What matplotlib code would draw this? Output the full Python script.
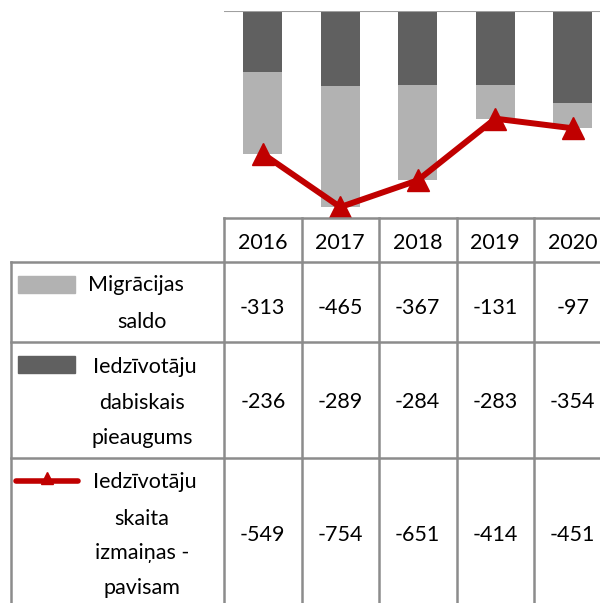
import matplotlib
matplotlib.use("Agg")
import matplotlib.pyplot as plt
from matplotlib.patches import Rectangle

years = ["2016", "2017", "2018", "2019", "2020"]
migracija = [-313, -465, -367, -131, -97]
dabiskais = [-236, -289, -284, -283, -354]
kopa = [-549, -754, -651, -414, -451]

row_labels = [
    ["Migrācijas", "saldo"],
    ["Iedzīvotāju", "dabiskais", "pieaugums"],
    ["Iedzīvotāju", "skaita", "izmaiņas -", "pavisam"],
]

dark = "#606060"
light = "#b2b2b2"
red = "#c00000"
grid = "#8c8c8c"

plt.rcParams["font.family"] = ["Lato", "DejaVu Sans"]
FS = 15.5

fig = plt.figure(figsize=(6, 6.03), dpi=100)
W, H = 600, 603

# chart area: x from 224 px, each column 77.5 px, y from 11 px to 218 px
x0, colw = 224, 77.5
ax = fig.add_axes([x0 / W, 1 - 218 / H, 5 * colw / W, (218 - 11) / H])
xs = list(range(len(years)))
ax.bar(xs, dabiskais, width=0.5, color=dark, zorder=2)
ax.bar(xs, migracija, width=0.5, bottom=dabiskais, color=light, zorder=2)
ax.plot(xs, kopa, color=red, lw=4.3, marker="^", ms=16, zorder=3)
ax.axhline(0, color="#a0a0a0", lw=1.5, zorder=4)
ax.set_xlim(-0.5, len(years) - 0.5)
ax.set_ylim(-796, 0)
ax.axis("off")

# table overlay in pixel coordinates
tx = fig.add_axes([0, 0, 1, 1], zorder=5)
tx.set_xlim(0, W)
tx.set_ylim(H, 0)
tx.axis("off")
tx.patch.set_alpha(0)

lw = 1.8
rows_y = [218, 262, 342, 458, H + 5]
cols_x = [x0 + i * colw for i in range(len(years) + 1)]
tx.plot([x0, W], [rows_y[0]] * 2, color=grid, lw=lw)
for y in rows_y[1:4]:
    tx.plot([11, W], [y, y], color=grid, lw=lw)
tx.plot([11, 11], [rows_y[1], H], color=grid, lw=lw)
for x in cols_x:
    tx.plot([x, x], [rows_y[0], H], color=grid, lw=lw)

cx = [x0 + (i + 0.5) * colw for i in range(len(years))]
for i, yr in enumerate(years):
    tx.text(cx[i], 243, yr, ha="center", va="center", fontsize=FS)
    tx.text(cx[i], 308, str(migracija[i]), ha="center", va="center", fontsize=FS)
    tx.text(cx[i], 402, str(dabiskais[i]), ha="center", va="center", fontsize=FS)
    tx.text(cx[i], 535, str(kopa[i]), ha="center", va="center", fontsize=FS)

# row labels with legend keys
line_y = [[285, 322], [367, 403, 438], [482, 519, 553, 588]]
first_cx = [136, 145, 145]
for r, lines in enumerate(row_labels):
    for j, t in enumerate(lines):
        c = first_cx[r] if j == 0 else 142
        tx.text(c, line_y[r][j], t, ha="center", va="center", fontsize=FS)

tx.add_patch(Rectangle((18, 276), 57, 17, color=light))
tx.add_patch(Rectangle((18, 356), 57, 17, color=dark))
tx.plot([16, 78], [481, 481], color=red, lw=4, solid_capstyle="round")
tx.plot([47], [478], marker="^", color=red, ms=8)

fig.savefig("out.png", dpi=100)
